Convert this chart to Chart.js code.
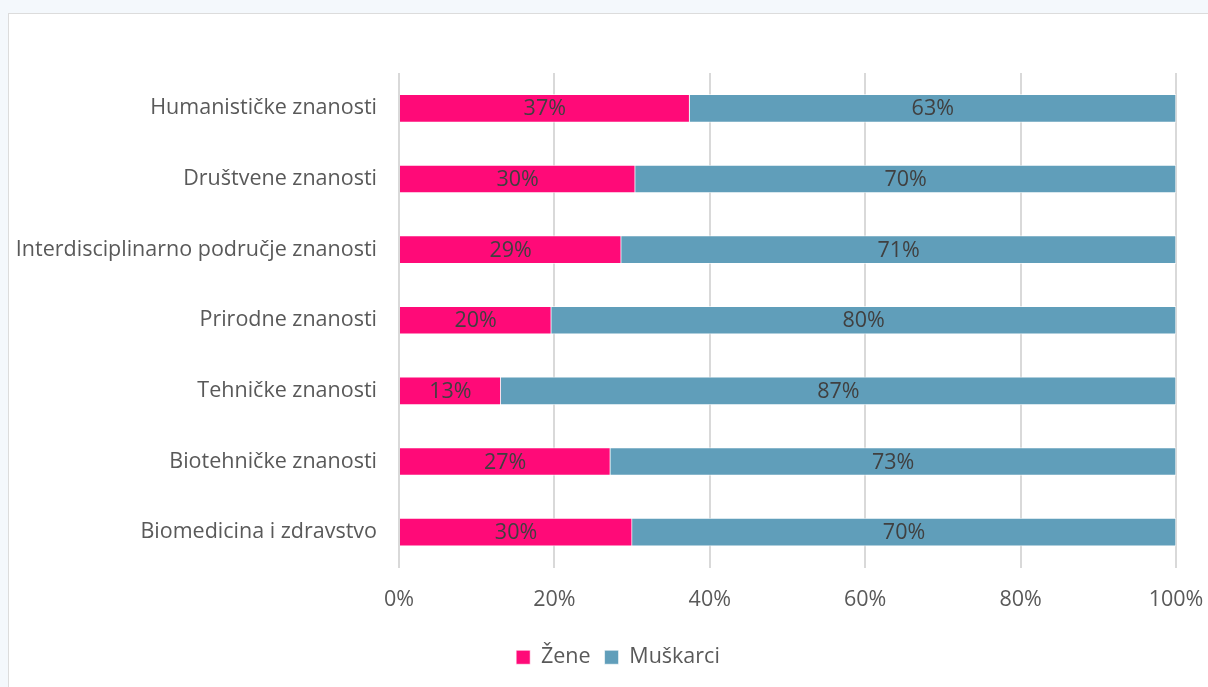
<!DOCTYPE html>
<html>
<head>
<meta charset="utf-8">
<script src="https://cdn.jsdelivr.net/npm/chart.js@4"></script>
<style>
    html, body { margin: 0; padding: 0; }
    body { width: 1208px; height: 687px; overflow: hidden; background: #f4f8fc; position: relative; }
    .card { position: absolute; left: 8px; top: 13px; width: 1300px; height: 800px; background: #fff; border: 1px solid #dcdcdc; }
    #chart { position: absolute; left: 0; top: 0; }
</style>
</head>
<body>
<div class="card"></div>
<canvas id="chart" width="1208" height="687"></canvas>
<script>
// ================= Data =================
const categories = [
    'Humanističke znanosti',
    'Društvene znanosti',
    'Interdisciplinarno područje znanosti',
    'Prirodne znanosti',
    'Tehničke znanosti',
    'Biotehničke znanosti',
    'Biomedicina i zdravstvo'
];
const zene = [37.4, 30.4, 28.6, 19.6, 13.1, 27.2, 30.0];
const muskarci = [62.6, 69.6, 71.4, 80.4, 86.9, 72.8, 70.0];
const tickLabels = ['0%', '20%', '40%', '60%', '80%', '100%'];

const FONT = "'Open Sans', sans-serif";
const FONT_SIZE = 21.5;

// Draw the rounded percentage in the middle of every segment
const segmentLabels = {
    id: 'segmentLabels',
    afterDatasetsDraw(chart) {
        const ctx = chart.ctx;
        ctx.save();
        ctx.font = `${FONT_SIZE}px ${FONT}`;
        ctx.fillStyle = '#404040';
        ctx.textAlign = 'center';
        ctx.textBaseline = 'middle';
        chart.data.datasets.forEach((ds, i) => {
            chart.getDatasetMeta(i).data.forEach((bar, j) => {
                const x = (bar.x + bar.base) / 2;
                ctx.fillText(Math.round(ds.data[j]) + '%', x, bar.y + 1);
            });
        });
        ctx.restore();
    }
};

// Nudge the legend a bit to the right, like in the original
const legendShift = {
    id: 'legendShift',
    afterLayout(chart) {
        if (chart.legend) chart.legend.left += 60;
    }
};

new Chart(document.getElementById('chart'), {
    type: 'bar',
    data: {
        labels: categories,
        datasets: [
            {
                label: 'Žene',
                data: zene,
                backgroundColor: '#ff0a78',
                borderColor: 'rgba(255,255,255,0.6)',
                borderWidth: 1,
                barThickness: 28
            },
            {
                label: 'Muškarci',
                data: muskarci,
                backgroundColor: '#609eba',
                borderColor: 'rgba(255,255,255,0.6)',
                borderWidth: 1,
                barThickness: 28
            }
        ]
    },
    options: {
        responsive: false,
        animation: false,
        indexAxis: 'y',
        layout: { padding: { top: 73, right: 32, bottom: 9, left: 0 } },
        plugins: {
            tooltip: { enabled: false },
            legend: {
                position: 'bottom',
                labels: {
                    boxWidth: 14,
                    boxHeight: 14,
                    padding: 14,
                    color: '#595959',
                    font: { family: FONT, size: FONT_SIZE }
                }
            }
        },
        scales: {
            x: {
                stacked: true,
                min: 0,
                max: 100,
                afterFit: scale => {
                    scale.height = 65;
                    scale.paddingLeft = 0;
                    scale.paddingRight = 0;
                },
                grid: { color: '#d9d9d9', lineWidth: 2, drawTicks: false },
                border: { display: false },
                ticks: {
                    stepSize: 20,
                    padding: 19,
                    color: '#595959',
                    font: { family: FONT, size: FONT_SIZE },
                    callback: (v, i) => tickLabels[i]
                }
            },
            y: {
                stacked: true,
                afterFit: scale => { scale.width = 399; },
                grid: { display: false, drawTicks: false },
                border: { display: false },
                ticks: {
                    padding: 22,
                    color: '#595959',
                    font: { family: FONT, size: FONT_SIZE }
                }
            }
        }
    },
    plugins: [segmentLabels, legendShift]
});
</script>
</body>
</html>
